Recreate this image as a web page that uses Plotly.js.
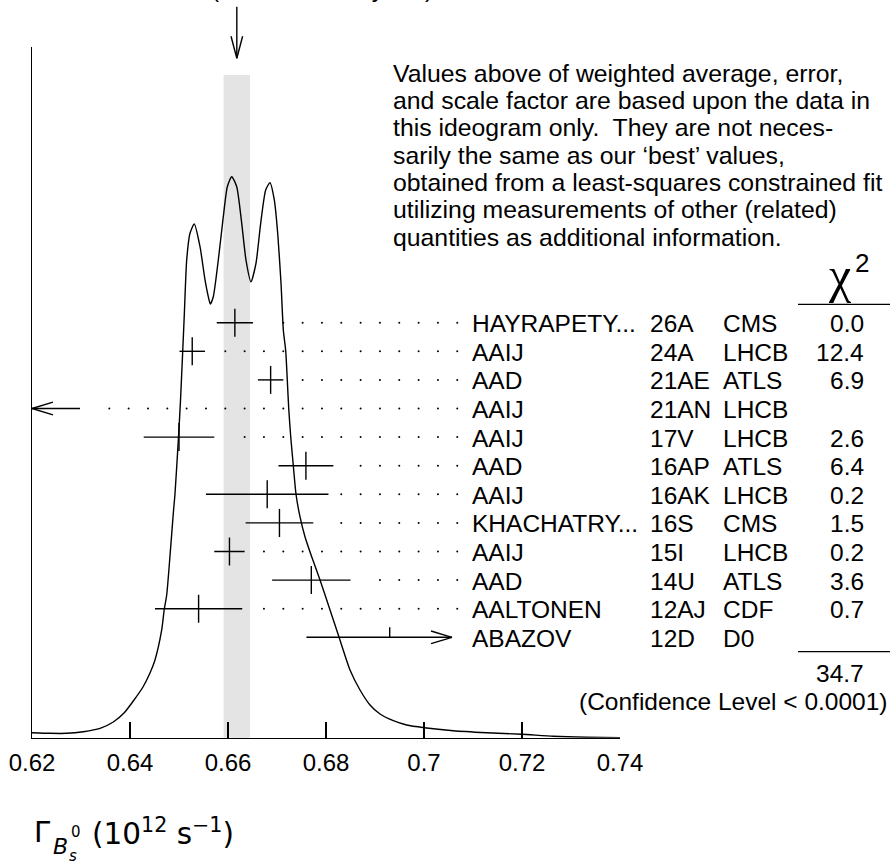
<!DOCTYPE html>
<html>
<head>
<meta charset="utf-8">
<script src="https://cdn.plot.ly/plotly-3.0.1.min.js"></script>
<style>
  html, body { margin: 0; padding: 0; background: #fff; }
  #chart { width: 891px; height: 867px; }
</style>
</head>
<body>
<div id="chart"></div>
<script>
// ---- measurements, listed top to bottom ----
const authors     = ["HAYRAPETY...", "AAIJ", "AAD", "AAIJ", "AAIJ", "AAD", "AAIJ", "KHACHATRY...", "AAIJ", "AAD", "AALTONEN", "ABAZOV"];
const refs        = ["26A", "24A", "21AE", "21AN", "17V", "16AP", "16AK", "16S", "15I", "14U", "12AJ", "12D"];
const experiments = ["CMS", "LHCB", "ATLS", "LHCB", "LHCB", "ATLS", "LHCB", "CMS", "LHCB", "ATLS", "CDF", "D0"];
const chi2Labels  = ["0.0", "12.4", "6.9", "", "2.6", "6.4", "0.2", "1.5", "0.2", "3.6", "0.7", ""];
const values      = [0.6614, 0.6527, 0.6687, null, 0.6500, 0.6759, 0.6680, 0.6705, 0.6603, 0.6770, 0.6540, 0.693];
const errMinus    = [0.0037, 0.0026, 0.0026, null, 0.0072, 0.0056, 0.0125, 0.0069, 0.0031, 0.0080, 0.0089, 0.017];
const errPlus     = [0.0037, 0.0026, 0.0026, null, 0.0072, 0.0056, 0.0125, 0.0069, 0.0031, 0.0080, 0.0089, 0.018];
// "left": lies below the axis range; "right": bar runs into the label column
const offScale    = ["", "", "", "left", "", "", "", "", "", "", "", "right"];

const chi2Total   = "34.7";
const confidence  = "(Confidence Level < 0.0001)";
const weightedAvg = 0.6618;
const weightedErr = 0.0027;
const avgCaption  = "0.6618\u00b10.0027 (Error scaled by 2.0)";

// ideogram curve (relative height, highest peak = 1)
const ideogramX = [0.6200, 0.62367, 0.62708, 0.63047, 0.63388, 0.63659, 0.63878, 0.64082, 0.64265, 0.64408,
  0.64510, 0.64647, 0.64700, 0.64749, 0.64831, 0.64884, 0.64918, 0.64990, 0.65031, 0.65076,
  0.65108, 0.65157, 0.65224, 0.65312, 0.65429, 0.65531, 0.65598, 0.65639, 0.65700, 0.65802,
  0.65904, 0.65986, 0.66076, 0.66178, 0.66280, 0.66367, 0.66469, 0.66571, 0.66667, 0.66769,
  0.66857, 0.66945, 0.67014, 0.67082, 0.67129, 0.67178, 0.67210, 0.67239, 0.67280, 0.67333,
  0.67388, 0.67469, 0.67571, 0.67708, 0.67878, 0.68082, 0.68265, 0.68490, 0.68694, 0.68898,
  0.69102, 0.69373, 0.69647, 0.70006, 0.70598, 0.71280, 0.71994, 0.72639, 0.73320, 0.7400];
const ideogramY = [0.0089, 0.0078, 0.0078, 0.0107, 0.0166, 0.0280, 0.0440, 0.0672, 0.0904, 0.1153,
  0.1385, 0.1920, 0.2294, 0.2544, 0.3405, 0.4005, 0.4344, 0.5360, 0.6020, 0.6893,
  0.7535, 0.8515, 0.8991, 0.9157, 0.8752, 0.8159, 0.7861, 0.7731, 0.7861, 0.8515,
  0.9287, 0.9822, 1.0000, 0.9822, 0.9169, 0.8515, 0.8128, 0.8456, 0.9169, 0.9763,
  0.9893, 0.9585, 0.8991, 0.8100, 0.7267, 0.6893, 0.6376, 0.5872, 0.5365, 0.4848,
  0.4339, 0.3939, 0.3583, 0.3226, 0.2811, 0.2276, 0.1795, 0.1207, 0.0850, 0.0583,
  0.0422, 0.0303, 0.0226, 0.0178, 0.0125, 0.0089, 0.0061, 0.0025, 0.0007, 0.0000];

const tickVals = [0.62, 0.64, 0.66, 0.68, 0.70, 0.72, 0.74];
const tickText = ["0.62", "0.64", "0.66", "0.68", "0.7", "0.72", "0.74"];

const noteLines = [
  "Values above of weighted average, error,",
  "and scale factor are based upon the data in",
  "this ideogram only.  They are not neces-",
  "sarily the same as our \u2018best\u2019 values,",
  "obtained from a least-squares constrained fit",
  "utilizing measurements of other (related)",
  "quantities as additional information."
];

// ---- page geometry (pixels) ----
const W = 891, H = 867;
const plotL = 32, plotR = 620, plotTop = 46.7, plotBase = 737.7;
const xMin = 0.62, xMax = 0.74;
const pxPerX = (plotR - plotL) / (xMax - xMin);
const peakPx = 176.7;                 // height of the tallest ideogram peak
const rowTop = 322.7, rowGap = 28.6;  // first row line and row spacing
const dotStepPx = 19.33, dotGapPx = 12, lastDotPx = 457.3;
const barLimitPx = 452;               // bars are cut here with an arrow
const PX = p => p / W;
const PY = p => 1 - p / H;
const TXT = "Liberation Sans, Arial, Helvetica, sans-serif";
const MATH = "DejaVu Sans, sans-serif";
const black = "#000";
const LW = 1.4;

const barLimit = xMin + (barLimitPx - plotL) / pxPerX;
const rows = authors.map((_, i) => i);

// ---- traces ----
const traces = [];

traces.push({
  x: ideogramX, y: ideogramY, xaxis: "x", yaxis: "y",
  mode: "lines", line: { color: black, width: LW, shape: "spline", smoothing: 0.6 },
  hoverinfo: "skip"
});

// dotted leaders from each bar to the label column
const dotX = [], dotY = [];
const dotStep = dotStepPx / pxPerX, dotGap = dotGapPx / pxPerX;
const lastDot = xMin + (lastDotPx - plotL) / pxPerX + 1e-6;
rows.forEach(i => {
  let end;
  if (offScale[i] === "left") end = xMin + 48 / pxPerX;
  else if (offScale[i] === "right") end = barLimit;
  else end = values[i] + errPlus[i];
  for (let k = 0; xMin + k * dotStep <= lastDot; k++) {
    const d = xMin + k * dotStep;
    if (d > end + dotGap) { dotX.push(d); dotY.push(i); }
  }
});
traces.push({
  x: dotX, y: dotY, xaxis: "x", yaxis: "y2", mode: "markers",
  marker: { size: 2, color: black }, hoverinfo: "skip"
});

// measurements with full error bars
const inRange = rows.filter(i => offScale[i] === "");
traces.push({
  x: inRange.map(i => values[i]), y: inRange, xaxis: "x", yaxis: "y2",
  mode: "markers",
  marker: { symbol: "line-ns", size: 20, line: { width: LW, color: black } },
  error_x: { type: "data", symmetric: false,
             array: inRange.map(i => errPlus[i]), arrayminus: inRange.map(i => errMinus[i]),
             thickness: LW, width: 0, color: black },
  hoverinfo: "skip"
});

// bar cut at the label column
const cutRows = rows.filter(i => offScale[i] === "right");
traces.push({
  x: cutRows.map(i => values[i]), y: cutRows, xaxis: "x", yaxis: "y2",
  mode: "markers", marker: { size: 1, color: "rgba(0,0,0,0)" },
  error_x: { type: "data", symmetric: false,
             array: cutRows.map(i => barLimit - values[i]), arrayminus: cutRows.map(i => errMinus[i]),
             thickness: LW, width: 0, color: black },
  hoverinfo: "skip"
});

// ---- shapes ----
const ln = { color: black, width: LW };
const shapes = [];

// weighted-average band
shapes.push({ type: "rect", layer: "below", xref: "x", yref: "paper",
  x0: weightedAvg - weightedErr, x1: weightedAvg + weightedErr,
  y0: PY(plotBase), y1: PY(75), fillcolor: "#e4e4e4", line: { width: 0 } });

// arrow marking the average
shapes.push({ type: "line", xref: "x", yref: "paper", x0: weightedAvg, x1: weightedAvg,
  y0: PY(6.7), y1: PY(58.3), line: ln });
[-5.8, 5.8].forEach(dx => shapes.push({ type: "line", xref: "x", yref: "paper",
  xsizemode: "pixel", xanchor: weightedAvg, x0: 0, x1: dx,
  ysizemode: "pixel", yanchor: PY(58.3), y0: 0, y1: 22, line: ln }));

function arrowHead(xTip, row, dir) {
  [-6.3, 6.3].forEach(dy => shapes.push({ type: "line", xref: "x", yref: "y2",
    xsizemode: "pixel", xanchor: xTip, x0: 0, x1: -dir * 21,
    ysizemode: "pixel", yanchor: row, y0: 0, y1: dy, line: ln }));
}
rows.forEach(i => {
  if (offScale[i] === "left") {
    shapes.push({ type: "line", xref: "x", yref: "y2", xsizemode: "pixel", xanchor: xMin,
      x0: 0, x1: 48, y0: i, y1: i, line: ln });
    arrowHead(xMin, i, -1);
  } else if (offScale[i] === "right") {
    arrowHead(barLimit, i, 1);
    // half tick at the central value
    shapes.push({ type: "line", xref: "x", yref: "y2", x0: values[i], x1: values[i],
      ysizemode: "pixel", yanchor: i, y0: 0, y1: 10, line: ln });
  }
});

// chi-square column rules
[304.3, 651.7].forEach(y => shapes.push({ type: "line", xref: "paper", yref: "paper",
  x0: PX(798), x1: PX(890), y0: PY(y), y1: PY(y), line: { color: black, width: 1.2 } }));

// ---- annotations ----
const ann = [];
const txt = (text, x, y, xanchor, size, extra) => Object.assign({
  text, x, y, xref: "paper", yref: "paper", xanchor, yanchor: "middle",
  showarrow: false, font: { family: TXT, size: size || 24.5, color: black }
}, extra || {});

rows.forEach(i => {
  const base = { yref: "y2", yshift: -1 };
  ann.push(txt(authors[i], PX(470.3), i, "left", 24.5, base));
  ann.push(txt(refs[i], PX(648), i, "left", 24.5, base));
  ann.push(txt(experiments[i], PX(721.3), i, "left", 24.5, base));
  if (chi2Labels[i]) ann.push(txt(chi2Labels[i], PX(866), i, "right", 24.5, base));
});
ann.push(txt("\u03c7", PX(839), PY(275), "center", 50, { font: { family: "Liberation Serif, serif", size: 50, color: black } }));
ann.push(txt("2", PX(862), PY(263), "center", 26));
ann.push(txt(chi2Total, PX(866), PY(673.3), "right"));
ann.push(txt(confidence, PX(890), PY(701.7), "right"));

noteLines.forEach((t, k) => ann.push(txt(t, PX(391), PY(73 + 27.4 * k), "left", 24.8)));

// caption of the average, running off the top edge
ann.push(txt(avgCaption, weightedAvg, PY(-11.5), "center", 24.5, { xref: "x" }));

// axis title: Gamma_{B_s^0} (10^12 s^-1)
const mf = (size, style) => ({ family: MATH, size, color: black, style: style || "normal" });
const title = (text, x, y, font) => ({ text, x: PX(x), y: PY(y), xref: "paper", yref: "paper",
  xanchor: "left", yanchor: "middle", showarrow: false, font });
ann.push(title("\u0393", 32, 832, mf(29)));
ann.push(title("B", 51, 846, mf(22, "italic")));
ann.push(title("0", 69, 832, mf(15)));
ann.push(title("s", 67, 856, mf(15, "italic")));
ann.push(title("(10<sup>12</sup> s<sup>\u22121</sup>)", 90, 832, mf(29.5)));

const layout = {
  width: W, height: H,
  margin: { l: 0, r: 0, t: 0, b: 0 },
  paper_bgcolor: "#fff", plot_bgcolor: "rgba(0,0,0,0)",
  showlegend: false,
  xaxis: {
    domain: [PX(plotL), PX(plotR)], range: [xMin, xMax],
    tickmode: "array", tickvals: tickVals, ticktext: tickText,
    ticks: "inside", ticklen: 16, tickwidth: LW, tickcolor: black,
    showline: true, linecolor: black, linewidth: LW,
    showgrid: false, zeroline: false, ticklabelstandoff: 3,
    tickfont: { family: TXT, size: 24, color: black }, fixedrange: true
  },
  yaxis: {
    domain: [PY(plotBase), PY(plotTop)],
    range: [0, (plotBase - plotTop) / (plotBase - peakPx)],
    showline: true, linecolor: black, linewidth: LW,
    showticklabels: false, ticks: "", showgrid: false, zeroline: false, fixedrange: true
  },
  yaxis2: {
    overlaying: "y", range: [(plotBase - rowTop) / rowGap, (plotTop - rowTop) / rowGap],
    visible: false, fixedrange: true
  },
  shapes, annotations: ann
};

Plotly.newPlot("chart", traces, layout, { staticPlot: true, displayModeBar: false });
</script>
</body>
</html>
